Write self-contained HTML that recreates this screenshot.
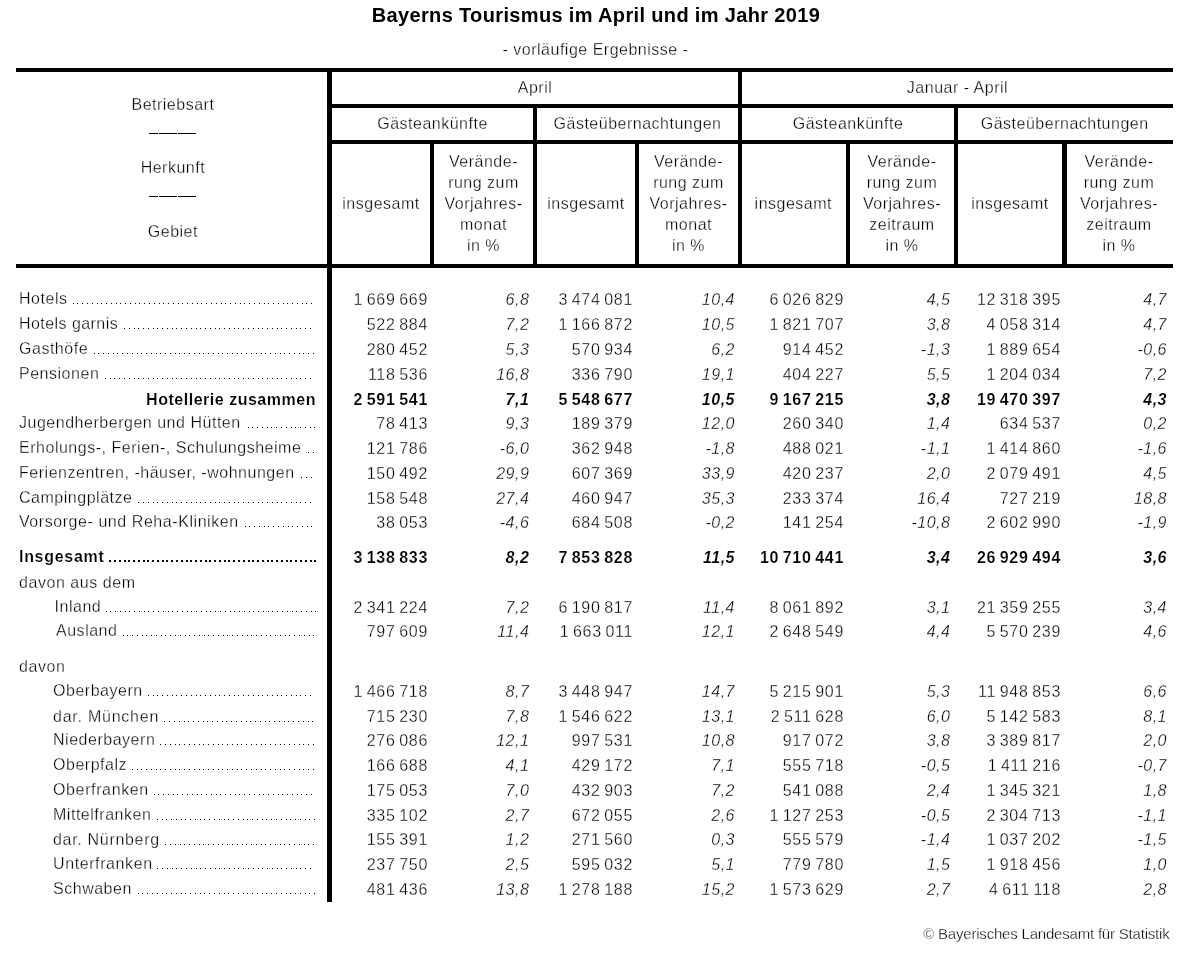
<!DOCTYPE html>
<html lang="de"><head><meta charset="utf-8"><title>Bayerns Tourismus im April und im Jahr 2019</title>
<style>
html,body{margin:0;padding:0;background:#fff;}
body{width:1197px;height:960px;position:relative;overflow:hidden;font-family:"Liberation Sans",sans-serif;font-size:16px;color:#000;-webkit-text-stroke:0.3px #fff;}
.t{position:absolute;white-space:nowrap;line-height:20px;height:20px;letter-spacing:0.4px;}
.l{letter-spacing:0.52px;}
.n{text-align:right;letter-spacing:0.7px;word-spacing:-1.5px;}
.p{text-align:right;font-style:italic;letter-spacing:0.5px;}
.b{font-weight:bold;-webkit-text-stroke:0.15px #fff;}
.h{text-align:center;letter-spacing:0.5px;}
svg{position:absolute;left:0;top:0;}
#pg{position:absolute;left:0;top:0;width:1197px;height:960px;will-change:transform;}
</style></head><body><div id="pg">
<svg width="1197" height="960" viewBox="0 0 1197 960" fill="#000">
<rect x="16" y="68" width="1157" height="4"/>
<rect x="327" y="104" width="846" height="4"/>
<rect x="327" y="140" width="846" height="4"/>
<rect x="16" y="264" width="1157" height="4"/>
<rect x="327" y="68" width="5" height="834"/>
<rect x="738" y="68" width="4" height="200"/>
<rect x="533" y="104" width="4" height="164"/>
<rect x="954" y="104" width="4" height="164"/>
<rect x="430" y="140" width="4" height="128"/>
<rect x="635" y="140" width="4" height="128"/>
<rect x="846" y="140" width="4" height="128"/>
<rect x="1062" y="140" width="5" height="128"/>
<rect x="149" y="133" width="9" height="1"/>
<rect x="159" y="133" width="18" height="1"/>
<rect x="178" y="133" width="18" height="1"/>
<rect x="149" y="196" width="9" height="1"/>
<rect x="159" y="196" width="18" height="1"/>
<rect x="178" y="196" width="18" height="1"/>
<path shape-rendering="crispEdges" d="M311 303h1v1h-1zM306 303h1v1h-1zM302 303h1v1h-1zM297 303h1v1h-1zM292 303h1v1h-1zM287 303h1v1h-1zM283 303h1v1h-1zM278 303h1v1h-1zM273 303h1v1h-1zM268 303h1v1h-1zM264 303h1v1h-1zM259 303h1v1h-1zM254 303h1v1h-1zM249 303h1v1h-1zM244 303h1v1h-1zM240 303h1v1h-1zM235 303h1v1h-1zM230 303h1v1h-1zM225 303h1v1h-1zM221 303h1v1h-1zM216 303h1v1h-1zM211 303h1v1h-1zM206 303h1v1h-1zM201 303h1v1h-1zM197 303h1v1h-1zM192 303h1v1h-1zM187 303h1v1h-1zM182 303h1v1h-1zM178 303h1v1h-1zM173 303h1v1h-1zM168 303h1v1h-1zM163 303h1v1h-1zM159 303h1v1h-1zM154 303h1v1h-1zM149 303h1v1h-1zM144 303h1v1h-1zM139 303h1v1h-1zM135 303h1v1h-1zM130 303h1v1h-1zM125 303h1v1h-1zM120 303h1v1h-1zM116 303h1v1h-1zM111 303h1v1h-1zM106 303h1v1h-1zM101 303h1v1h-1zM97 303h1v1h-1zM92 303h1v1h-1zM87 303h1v1h-1zM82 303h1v1h-1zM77 303h1v1h-1zM73 303h1v1h-1zM310 328h1v1h-1zM305 328h1v1h-1zM300 328h1v1h-1zM296 328h1v1h-1zM291 328h1v1h-1zM286 328h1v1h-1zM281 328h1v1h-1zM277 328h1v1h-1zM272 328h1v1h-1zM267 328h1v1h-1zM262 328h1v1h-1zM258 328h1v1h-1zM253 328h1v1h-1zM248 328h1v1h-1zM243 328h1v1h-1zM238 328h1v1h-1zM234 328h1v1h-1zM229 328h1v1h-1zM224 328h1v1h-1zM219 328h1v1h-1zM215 328h1v1h-1zM210 328h1v1h-1zM205 328h1v1h-1zM200 328h1v1h-1zM196 328h1v1h-1zM191 328h1v1h-1zM186 328h1v1h-1zM181 328h1v1h-1zM176 328h1v1h-1zM172 328h1v1h-1zM167 328h1v1h-1zM162 328h1v1h-1zM157 328h1v1h-1zM153 328h1v1h-1zM148 328h1v1h-1zM143 328h1v1h-1zM138 328h1v1h-1zM134 328h1v1h-1zM129 328h1v1h-1zM124 328h1v1h-1zM313 353h1v1h-1zM308 353h1v1h-1zM303 353h1v1h-1zM299 353h1v1h-1zM294 353h1v1h-1zM289 353h1v1h-1zM284 353h1v1h-1zM280 353h1v1h-1zM275 353h1v1h-1zM270 353h1v1h-1zM265 353h1v1h-1zM261 353h1v1h-1zM256 353h1v1h-1zM251 353h1v1h-1zM246 353h1v1h-1zM241 353h1v1h-1zM237 353h1v1h-1zM232 353h1v1h-1zM227 353h1v1h-1zM222 353h1v1h-1zM218 353h1v1h-1zM213 353h1v1h-1zM208 353h1v1h-1zM203 353h1v1h-1zM199 353h1v1h-1zM194 353h1v1h-1zM189 353h1v1h-1zM184 353h1v1h-1zM179 353h1v1h-1zM175 353h1v1h-1zM170 353h1v1h-1zM165 353h1v1h-1zM160 353h1v1h-1zM156 353h1v1h-1zM151 353h1v1h-1zM146 353h1v1h-1zM141 353h1v1h-1zM137 353h1v1h-1zM132 353h1v1h-1zM127 353h1v1h-1zM122 353h1v1h-1zM117 353h1v1h-1zM113 353h1v1h-1zM108 353h1v1h-1zM103 353h1v1h-1zM98 353h1v1h-1zM94 353h1v1h-1zM310 378h1v1h-1zM305 378h1v1h-1zM300 378h1v1h-1zM296 378h1v1h-1zM291 378h1v1h-1zM286 378h1v1h-1zM281 378h1v1h-1zM277 378h1v1h-1zM272 378h1v1h-1zM267 378h1v1h-1zM262 378h1v1h-1zM258 378h1v1h-1zM253 378h1v1h-1zM248 378h1v1h-1zM243 378h1v1h-1zM238 378h1v1h-1zM234 378h1v1h-1zM229 378h1v1h-1zM224 378h1v1h-1zM219 378h1v1h-1zM215 378h1v1h-1zM210 378h1v1h-1zM205 378h1v1h-1zM200 378h1v1h-1zM196 378h1v1h-1zM191 378h1v1h-1zM186 378h1v1h-1zM181 378h1v1h-1zM176 378h1v1h-1zM172 378h1v1h-1zM167 378h1v1h-1zM162 378h1v1h-1zM157 378h1v1h-1zM153 378h1v1h-1zM148 378h1v1h-1zM143 378h1v1h-1zM138 378h1v1h-1zM134 378h1v1h-1zM129 378h1v1h-1zM124 378h1v1h-1zM119 378h1v1h-1zM114 378h1v1h-1zM110 378h1v1h-1zM105 378h1v1h-1zM314 427h1v1h-1zM310 427h1v1h-1zM305 427h1v1h-1zM300 427h1v1h-1zM295 427h1v1h-1zM291 427h1v1h-1zM286 427h1v1h-1zM281 427h1v1h-1zM276 427h1v1h-1zM271 427h1v1h-1zM267 427h1v1h-1zM262 427h1v1h-1zM257 427h1v1h-1zM252 427h1v1h-1zM248 427h1v1h-1zM313 452h1v1h-1zM308 452h1v1h-1zM311 477h1v1h-1zM306 477h1v1h-1zM301 477h1v1h-1zM310 502h1v1h-1zM305 502h1v1h-1zM300 502h1v1h-1zM296 502h1v1h-1zM291 502h1v1h-1zM286 502h1v1h-1zM281 502h1v1h-1zM277 502h1v1h-1zM272 502h1v1h-1zM267 502h1v1h-1zM262 502h1v1h-1zM258 502h1v1h-1zM253 502h1v1h-1zM248 502h1v1h-1zM243 502h1v1h-1zM238 502h1v1h-1zM234 502h1v1h-1zM229 502h1v1h-1zM224 502h1v1h-1zM219 502h1v1h-1zM215 502h1v1h-1zM210 502h1v1h-1zM205 502h1v1h-1zM200 502h1v1h-1zM196 502h1v1h-1zM191 502h1v1h-1zM186 502h1v1h-1zM181 502h1v1h-1zM176 502h1v1h-1zM172 502h1v1h-1zM167 502h1v1h-1zM162 502h1v1h-1zM157 502h1v1h-1zM153 502h1v1h-1zM148 502h1v1h-1zM143 502h1v1h-1zM138 502h1v1h-1zM311 526h1v1h-1zM307 526h1v1h-1zM302 526h1v1h-1zM297 526h1v1h-1zM292 526h1v1h-1zM288 526h1v1h-1zM283 526h1v1h-1zM278 526h1v1h-1zM273 526h1v1h-1zM268 526h1v1h-1zM264 526h1v1h-1zM259 526h1v1h-1zM254 526h1v1h-1zM249 526h1v1h-1zM245 526h1v1h-1zM314 560h2v2h-2zM310 560h2v2h-2zM305 560h2v2h-2zM300 560h2v2h-2zM295 560h2v2h-2zM290 560h2v2h-2zM286 560h2v2h-2zM281 560h2v2h-2zM276 560h2v2h-2zM271 560h2v2h-2zM267 560h2v2h-2zM262 560h2v2h-2zM257 560h2v2h-2zM252 560h2v2h-2zM248 560h2v2h-2zM243 560h2v2h-2zM238 560h2v2h-2zM233 560h2v2h-2zM228 560h2v2h-2zM224 560h2v2h-2zM219 560h2v2h-2zM214 560h2v2h-2zM209 560h2v2h-2zM205 560h2v2h-2zM200 560h2v2h-2zM195 560h2v2h-2zM190 560h2v2h-2zM186 560h2v2h-2zM181 560h2v2h-2zM176 560h2v2h-2zM171 560h2v2h-2zM166 560h2v2h-2zM162 560h2v2h-2zM157 560h2v2h-2zM152 560h2v2h-2zM147 560h2v2h-2zM143 560h2v2h-2zM138 560h2v2h-2zM133 560h2v2h-2zM128 560h2v2h-2zM124 560h2v2h-2zM119 560h2v2h-2zM114 560h2v2h-2zM109 560h2v2h-2zM315 611h1v1h-1zM311 611h1v1h-1zM306 611h1v1h-1zM301 611h1v1h-1zM296 611h1v1h-1zM292 611h1v1h-1zM287 611h1v1h-1zM282 611h1v1h-1zM277 611h1v1h-1zM272 611h1v1h-1zM268 611h1v1h-1zM263 611h1v1h-1zM258 611h1v1h-1zM253 611h1v1h-1zM249 611h1v1h-1zM244 611h1v1h-1zM239 611h1v1h-1zM234 611h1v1h-1zM230 611h1v1h-1zM225 611h1v1h-1zM220 611h1v1h-1zM215 611h1v1h-1zM210 611h1v1h-1zM206 611h1v1h-1zM201 611h1v1h-1zM196 611h1v1h-1zM191 611h1v1h-1zM187 611h1v1h-1zM182 611h1v1h-1zM177 611h1v1h-1zM172 611h1v1h-1zM168 611h1v1h-1zM163 611h1v1h-1zM158 611h1v1h-1zM153 611h1v1h-1zM148 611h1v1h-1zM144 611h1v1h-1zM139 611h1v1h-1zM134 611h1v1h-1zM129 611h1v1h-1zM125 611h1v1h-1zM120 611h1v1h-1zM115 611h1v1h-1zM110 611h1v1h-1zM106 611h1v1h-1zM313 635h1v1h-1zM309 635h1v1h-1zM304 635h1v1h-1zM299 635h1v1h-1zM294 635h1v1h-1zM289 635h1v1h-1zM285 635h1v1h-1zM280 635h1v1h-1zM275 635h1v1h-1zM270 635h1v1h-1zM266 635h1v1h-1zM261 635h1v1h-1zM256 635h1v1h-1zM251 635h1v1h-1zM247 635h1v1h-1zM242 635h1v1h-1zM237 635h1v1h-1zM232 635h1v1h-1zM227 635h1v1h-1zM223 635h1v1h-1zM218 635h1v1h-1zM213 635h1v1h-1zM208 635h1v1h-1zM204 635h1v1h-1zM199 635h1v1h-1zM194 635h1v1h-1zM189 635h1v1h-1zM185 635h1v1h-1zM180 635h1v1h-1zM175 635h1v1h-1zM170 635h1v1h-1zM165 635h1v1h-1zM161 635h1v1h-1zM156 635h1v1h-1zM151 635h1v1h-1zM146 635h1v1h-1zM142 635h1v1h-1zM137 635h1v1h-1zM132 635h1v1h-1zM127 635h1v1h-1zM123 635h1v1h-1zM310 695h1v1h-1zM305 695h1v1h-1zM300 695h1v1h-1zM296 695h1v1h-1zM291 695h1v1h-1zM286 695h1v1h-1zM281 695h1v1h-1zM277 695h1v1h-1zM272 695h1v1h-1zM267 695h1v1h-1zM262 695h1v1h-1zM258 695h1v1h-1zM253 695h1v1h-1zM248 695h1v1h-1zM243 695h1v1h-1zM238 695h1v1h-1zM234 695h1v1h-1zM229 695h1v1h-1zM224 695h1v1h-1zM219 695h1v1h-1zM215 695h1v1h-1zM210 695h1v1h-1zM205 695h1v1h-1zM200 695h1v1h-1zM196 695h1v1h-1zM191 695h1v1h-1zM186 695h1v1h-1zM181 695h1v1h-1zM176 695h1v1h-1zM172 695h1v1h-1zM167 695h1v1h-1zM162 695h1v1h-1zM157 695h1v1h-1zM153 695h1v1h-1zM148 695h1v1h-1zM312 721h1v1h-1zM308 721h1v1h-1zM303 721h1v1h-1zM298 721h1v1h-1zM293 721h1v1h-1zM288 721h1v1h-1zM284 721h1v1h-1zM279 721h1v1h-1zM274 721h1v1h-1zM269 721h1v1h-1zM265 721h1v1h-1zM260 721h1v1h-1zM255 721h1v1h-1zM250 721h1v1h-1zM246 721h1v1h-1zM241 721h1v1h-1zM236 721h1v1h-1zM231 721h1v1h-1zM226 721h1v1h-1zM222 721h1v1h-1zM217 721h1v1h-1zM212 721h1v1h-1zM207 721h1v1h-1zM203 721h1v1h-1zM198 721h1v1h-1zM193 721h1v1h-1zM188 721h1v1h-1zM184 721h1v1h-1zM179 721h1v1h-1zM174 721h1v1h-1zM169 721h1v1h-1zM164 721h1v1h-1zM313 744h1v1h-1zM308 744h1v1h-1zM303 744h1v1h-1zM299 744h1v1h-1zM294 744h1v1h-1zM289 744h1v1h-1zM284 744h1v1h-1zM280 744h1v1h-1zM275 744h1v1h-1zM270 744h1v1h-1zM265 744h1v1h-1zM261 744h1v1h-1zM256 744h1v1h-1zM251 744h1v1h-1zM246 744h1v1h-1zM241 744h1v1h-1zM237 744h1v1h-1zM232 744h1v1h-1zM227 744h1v1h-1zM222 744h1v1h-1zM218 744h1v1h-1zM213 744h1v1h-1zM208 744h1v1h-1zM203 744h1v1h-1zM199 744h1v1h-1zM194 744h1v1h-1zM189 744h1v1h-1zM184 744h1v1h-1zM179 744h1v1h-1zM175 744h1v1h-1zM170 744h1v1h-1zM165 744h1v1h-1zM160 744h1v1h-1zM313 769h1v1h-1zM308 769h1v1h-1zM303 769h1v1h-1zM299 769h1v1h-1zM294 769h1v1h-1zM289 769h1v1h-1zM284 769h1v1h-1zM280 769h1v1h-1zM275 769h1v1h-1zM270 769h1v1h-1zM265 769h1v1h-1zM261 769h1v1h-1zM256 769h1v1h-1zM251 769h1v1h-1zM246 769h1v1h-1zM241 769h1v1h-1zM237 769h1v1h-1zM232 769h1v1h-1zM227 769h1v1h-1zM222 769h1v1h-1zM218 769h1v1h-1zM213 769h1v1h-1zM208 769h1v1h-1zM203 769h1v1h-1zM199 769h1v1h-1zM194 769h1v1h-1zM189 769h1v1h-1zM184 769h1v1h-1zM179 769h1v1h-1zM175 769h1v1h-1zM170 769h1v1h-1zM165 769h1v1h-1zM160 769h1v1h-1zM156 769h1v1h-1zM151 769h1v1h-1zM146 769h1v1h-1zM141 769h1v1h-1zM137 769h1v1h-1zM132 769h1v1h-1zM311 794h1v1h-1zM306 794h1v1h-1zM301 794h1v1h-1zM297 794h1v1h-1zM292 794h1v1h-1zM287 794h1v1h-1zM282 794h1v1h-1zM278 794h1v1h-1zM273 794h1v1h-1zM268 794h1v1h-1zM263 794h1v1h-1zM259 794h1v1h-1zM254 794h1v1h-1zM249 794h1v1h-1zM244 794h1v1h-1zM239 794h1v1h-1zM235 794h1v1h-1zM230 794h1v1h-1zM225 794h1v1h-1zM220 794h1v1h-1zM216 794h1v1h-1zM211 794h1v1h-1zM206 794h1v1h-1zM201 794h1v1h-1zM197 794h1v1h-1zM192 794h1v1h-1zM187 794h1v1h-1zM182 794h1v1h-1zM177 794h1v1h-1zM173 794h1v1h-1zM168 794h1v1h-1zM163 794h1v1h-1zM158 794h1v1h-1zM154 794h1v1h-1zM314 819h1v1h-1zM309 819h1v1h-1zM305 819h1v1h-1zM300 819h1v1h-1zM295 819h1v1h-1zM290 819h1v1h-1zM286 819h1v1h-1zM281 819h1v1h-1zM276 819h1v1h-1zM271 819h1v1h-1zM266 819h1v1h-1zM262 819h1v1h-1zM257 819h1v1h-1zM252 819h1v1h-1zM247 819h1v1h-1zM243 819h1v1h-1zM238 819h1v1h-1zM233 819h1v1h-1zM228 819h1v1h-1zM224 819h1v1h-1zM219 819h1v1h-1zM214 819h1v1h-1zM209 819h1v1h-1zM204 819h1v1h-1zM200 819h1v1h-1zM195 819h1v1h-1zM190 819h1v1h-1zM185 819h1v1h-1zM181 819h1v1h-1zM176 819h1v1h-1zM171 819h1v1h-1zM166 819h1v1h-1zM162 819h1v1h-1zM157 819h1v1h-1zM313 844h1v1h-1zM308 844h1v1h-1zM304 844h1v1h-1zM299 844h1v1h-1zM294 844h1v1h-1zM289 844h1v1h-1zM284 844h1v1h-1zM280 844h1v1h-1zM275 844h1v1h-1zM270 844h1v1h-1zM265 844h1v1h-1zM261 844h1v1h-1zM256 844h1v1h-1zM251 844h1v1h-1zM246 844h1v1h-1zM242 844h1v1h-1zM237 844h1v1h-1zM232 844h1v1h-1zM227 844h1v1h-1zM222 844h1v1h-1zM218 844h1v1h-1zM213 844h1v1h-1zM208 844h1v1h-1zM203 844h1v1h-1zM199 844h1v1h-1zM194 844h1v1h-1zM189 844h1v1h-1zM184 844h1v1h-1zM180 844h1v1h-1zM175 844h1v1h-1zM170 844h1v1h-1zM165 844h1v1h-1zM310 868h1v1h-1zM305 868h1v1h-1zM300 868h1v1h-1zM296 868h1v1h-1zM291 868h1v1h-1zM286 868h1v1h-1zM281 868h1v1h-1zM277 868h1v1h-1zM272 868h1v1h-1zM267 868h1v1h-1zM262 868h1v1h-1zM258 868h1v1h-1zM253 868h1v1h-1zM248 868h1v1h-1zM243 868h1v1h-1zM238 868h1v1h-1zM234 868h1v1h-1zM229 868h1v1h-1zM224 868h1v1h-1zM219 868h1v1h-1zM215 868h1v1h-1zM210 868h1v1h-1zM205 868h1v1h-1zM200 868h1v1h-1zM196 868h1v1h-1zM191 868h1v1h-1zM186 868h1v1h-1zM181 868h1v1h-1zM176 868h1v1h-1zM172 868h1v1h-1zM167 868h1v1h-1zM162 868h1v1h-1zM157 868h1v1h-1zM314 893h1v1h-1zM309 893h1v1h-1zM305 893h1v1h-1zM300 893h1v1h-1zM295 893h1v1h-1zM290 893h1v1h-1zM286 893h1v1h-1zM281 893h1v1h-1zM276 893h1v1h-1zM271 893h1v1h-1zM266 893h1v1h-1zM262 893h1v1h-1zM257 893h1v1h-1zM252 893h1v1h-1zM247 893h1v1h-1zM243 893h1v1h-1zM238 893h1v1h-1zM233 893h1v1h-1zM228 893h1v1h-1zM224 893h1v1h-1zM219 893h1v1h-1zM214 893h1v1h-1zM209 893h1v1h-1zM204 893h1v1h-1zM200 893h1v1h-1zM195 893h1v1h-1zM190 893h1v1h-1zM185 893h1v1h-1zM181 893h1v1h-1zM176 893h1v1h-1zM171 893h1v1h-1zM166 893h1v1h-1zM162 893h1v1h-1zM157 893h1v1h-1zM152 893h1v1h-1zM147 893h1v1h-1zM142 893h1v1h-1zM138 893h1v1h-1z"/>
</svg>
<div class="t b h" style="left:0px;width:1192px;top:3.07px;font-size:20px;line-height:24px;height:24px;letter-spacing:0.35px;-webkit-text-stroke:0;">Bayerns Tourismus im April und im Jahr 2019</div>
<div class="t h" style="left:0px;width:1191px;top:39.96px;">- vorläufige Ergebnisse -</div>
<div class="t h" style="left:17.4px;width:311px;top:95.46px;">Betriebsart</div>
<div class="t h" style="left:17.4px;width:311px;top:158.46px;">Herkunft</div>
<div class="t h" style="left:17.4px;width:311px;top:222.46px;">Gebiet</div>
<div class="t h" style="left:332px;width:406px;top:78.46px;">April</div>
<div class="t h" style="left:742px;width:431px;top:78.46px;">Januar - April</div>
<div class="t h" style="left:332px;width:201px;top:114.46px;">Gästeankünfte</div>
<div class="t h" style="left:537px;width:201px;top:114.46px;">Gästeübernachtungen</div>
<div class="t h" style="left:742px;width:212px;top:114.46px;">Gästeankünfte</div>
<div class="t h" style="left:957px;width:215.4px;top:114.46px;">Gästeübernachtungen</div>
<div class="t h" style="left:332px;width:98px;top:194.46px;">insgesamt</div>
<div class="t h" style="left:537px;width:98px;top:194.46px;">insgesamt</div>
<div class="t h" style="left:741px;width:104.6px;top:194.46px;">insgesamt</div>
<div class="t h" style="left:958px;width:104px;top:194.46px;">insgesamt</div>
<div class="t h" style="left:434px;width:99px;top:152.46px;">Verände-</div>
<div class="t h" style="left:434px;width:99px;top:173.46px;">rung zum</div>
<div class="t h" style="left:434px;width:99px;top:194.46px;">Vorjahres-</div>
<div class="t h" style="left:434px;width:99px;top:215.46px;">monat</div>
<div class="t h" style="left:434px;width:99px;top:236.46px;">in %</div>
<div class="t h" style="left:639px;width:99px;top:152.46px;">Verände-</div>
<div class="t h" style="left:639px;width:99px;top:173.46px;">rung zum</div>
<div class="t h" style="left:639px;width:99px;top:194.46px;">Vorjahres-</div>
<div class="t h" style="left:639px;width:99px;top:215.46px;">monat</div>
<div class="t h" style="left:639px;width:99px;top:236.46px;">in %</div>
<div class="t h" style="left:850px;width:104px;top:152.46px;">Verände-</div>
<div class="t h" style="left:850px;width:104px;top:173.46px;">rung zum</div>
<div class="t h" style="left:850px;width:104px;top:194.46px;">Vorjahres-</div>
<div class="t h" style="left:850px;width:104px;top:215.46px;">zeitraum</div>
<div class="t h" style="left:850px;width:104px;top:236.46px;">in %</div>
<div class="t h" style="left:1066px;width:106px;top:152.46px;">Verände-</div>
<div class="t h" style="left:1066px;width:106px;top:173.46px;">rung zum</div>
<div class="t h" style="left:1066px;width:106px;top:194.46px;">Vorjahres-</div>
<div class="t h" style="left:1066px;width:106px;top:215.46px;">zeitraum</div>
<div class="t h" style="left:1066px;width:106px;top:236.46px;">in %</div>
<div class="t l" style="left:19px;top:289.46px;">Hotels</div>
<div class="t n" style="left:308px;width:120px;top:290.46px;">1 669 669</div>
<div class="t p" style="left:409.3px;width:120px;top:290.46px;">6,8</div>
<div class="t n" style="left:513px;width:120px;top:290.46px;">3 474 081</div>
<div class="t p" style="left:615px;width:120px;top:290.46px;">10,4</div>
<div class="t n" style="left:724px;width:120px;top:290.46px;">6 026 829</div>
<div class="t p" style="left:830.4px;width:120px;top:290.46px;">4,5</div>
<div class="t n" style="left:941px;width:120px;top:290.46px;">12 318 395</div>
<div class="t p" style="left:1047px;width:120px;top:290.46px;">4,7</div>
<div class="t l" style="left:19px;top:314.46px;letter-spacing:0.44px;">Hotels garnis</div>
<div class="t n" style="left:308px;width:120px;top:315.46px;">522 884</div>
<div class="t p" style="left:409.3px;width:120px;top:315.46px;">7,2</div>
<div class="t n" style="left:513px;width:120px;top:315.46px;">1 166 872</div>
<div class="t p" style="left:615px;width:120px;top:315.46px;">10,5</div>
<div class="t n" style="left:724px;width:120px;top:315.46px;">1 821 707</div>
<div class="t p" style="left:830.4px;width:120px;top:315.46px;">3,8</div>
<div class="t n" style="left:941px;width:120px;top:315.46px;">4 058 314</div>
<div class="t p" style="left:1047px;width:120px;top:315.46px;">4,7</div>
<div class="t l" style="left:19px;top:339.46px;">Gasthöfe</div>
<div class="t n" style="left:308px;width:120px;top:340.46px;">280 452</div>
<div class="t p" style="left:409.3px;width:120px;top:340.46px;">5,3</div>
<div class="t n" style="left:513px;width:120px;top:340.46px;">570 934</div>
<div class="t p" style="left:615px;width:120px;top:340.46px;">6,2</div>
<div class="t n" style="left:724px;width:120px;top:340.46px;">914 452</div>
<div class="t p" style="left:830.4px;width:120px;top:340.46px;">-1,3</div>
<div class="t n" style="left:941px;width:120px;top:340.46px;">1 889 654</div>
<div class="t p" style="left:1047px;width:120px;top:340.46px;">-0,6</div>
<div class="t l" style="left:19px;top:364.46px;">Pensionen</div>
<div class="t n" style="left:308px;width:120px;top:365.46px;">118 536</div>
<div class="t p" style="left:409.3px;width:120px;top:365.46px;">16,8</div>
<div class="t n" style="left:513px;width:120px;top:365.46px;">336 790</div>
<div class="t p" style="left:615px;width:120px;top:365.46px;">19,1</div>
<div class="t n" style="left:724px;width:120px;top:365.46px;">404 227</div>
<div class="t p" style="left:830.4px;width:120px;top:365.46px;">5,5</div>
<div class="t n" style="left:941px;width:120px;top:365.46px;">1 204 034</div>
<div class="t p" style="left:1047px;width:120px;top:365.46px;">7,2</div>
<div class="t b" style="left:16px;width:300px;top:390.46px;text-align:right;letter-spacing:0.52px;">Hotellerie zusammen</div>
<div class="t n b" style="left:308px;width:120px;top:390.46px;">2 591 541</div>
<div class="t p b" style="left:409.3px;width:120px;top:390.46px;">7,1</div>
<div class="t n b" style="left:513px;width:120px;top:390.46px;">5 548 677</div>
<div class="t p b" style="left:615px;width:120px;top:390.46px;">10,5</div>
<div class="t n b" style="left:724px;width:120px;top:390.46px;">9 167 215</div>
<div class="t p b" style="left:830.4px;width:120px;top:390.46px;">3,8</div>
<div class="t n b" style="left:941px;width:120px;top:390.46px;">19 470 397</div>
<div class="t p b" style="left:1047px;width:120px;top:390.46px;">4,3</div>
<div class="t l" style="left:19px;top:413.46px;">Jugendherbergen und Hütten</div>
<div class="t n" style="left:308px;width:120px;top:414.46px;">78 413</div>
<div class="t p" style="left:409.3px;width:120px;top:414.46px;">9,3</div>
<div class="t n" style="left:513px;width:120px;top:414.46px;">189 379</div>
<div class="t p" style="left:615px;width:120px;top:414.46px;">12,0</div>
<div class="t n" style="left:724px;width:120px;top:414.46px;">260 340</div>
<div class="t p" style="left:830.4px;width:120px;top:414.46px;">1,4</div>
<div class="t n" style="left:941px;width:120px;top:414.46px;">634 537</div>
<div class="t p" style="left:1047px;width:120px;top:414.46px;">0,2</div>
<div class="t l" style="left:19px;top:438.46px;">Erholungs-, Ferien-, Schulungsheime</div>
<div class="t n" style="left:308px;width:120px;top:439.46px;">121 786</div>
<div class="t p" style="left:409.3px;width:120px;top:439.46px;">-6,0</div>
<div class="t n" style="left:513px;width:120px;top:439.46px;">362 948</div>
<div class="t p" style="left:615px;width:120px;top:439.46px;">-1,8</div>
<div class="t n" style="left:724px;width:120px;top:439.46px;">488 021</div>
<div class="t p" style="left:830.4px;width:120px;top:439.46px;">-1,1</div>
<div class="t n" style="left:941px;width:120px;top:439.46px;">1 414 860</div>
<div class="t p" style="left:1047px;width:120px;top:439.46px;">-1,6</div>
<div class="t l" style="left:19px;top:463.46px;">Ferienzentren, -häuser, -wohnungen</div>
<div class="t n" style="left:308px;width:120px;top:464.46px;">150 492</div>
<div class="t p" style="left:409.3px;width:120px;top:464.46px;">29,9</div>
<div class="t n" style="left:513px;width:120px;top:464.46px;">607 369</div>
<div class="t p" style="left:615px;width:120px;top:464.46px;">33,9</div>
<div class="t n" style="left:724px;width:120px;top:464.46px;">420 237</div>
<div class="t p" style="left:830.4px;width:120px;top:464.46px;">2,0</div>
<div class="t n" style="left:941px;width:120px;top:464.46px;">2 079 491</div>
<div class="t p" style="left:1047px;width:120px;top:464.46px;">4,5</div>
<div class="t l" style="left:19px;top:488.46px;">Campingplätze</div>
<div class="t n" style="left:308px;width:120px;top:489.46px;">158 548</div>
<div class="t p" style="left:409.3px;width:120px;top:489.46px;">27,4</div>
<div class="t n" style="left:513px;width:120px;top:489.46px;">460 947</div>
<div class="t p" style="left:615px;width:120px;top:489.46px;">35,3</div>
<div class="t n" style="left:724px;width:120px;top:489.46px;">233 374</div>
<div class="t p" style="left:830.4px;width:120px;top:489.46px;">16,4</div>
<div class="t n" style="left:941px;width:120px;top:489.46px;">727 219</div>
<div class="t p" style="left:1047px;width:120px;top:489.46px;">18,8</div>
<div class="t l" style="left:19px;top:512.46px;letter-spacing:0.56px;">Vorsorge- und Reha-Kliniken</div>
<div class="t n" style="left:308px;width:120px;top:513.46px;">38 053</div>
<div class="t p" style="left:409.3px;width:120px;top:513.46px;">-4,6</div>
<div class="t n" style="left:513px;width:120px;top:513.46px;">684 508</div>
<div class="t p" style="left:615px;width:120px;top:513.46px;">-0,2</div>
<div class="t n" style="left:724px;width:120px;top:513.46px;">141 254</div>
<div class="t p" style="left:830.4px;width:120px;top:513.46px;">-10,8</div>
<div class="t n" style="left:941px;width:120px;top:513.46px;">2 602 990</div>
<div class="t p" style="left:1047px;width:120px;top:513.46px;">-1,9</div>
<div class="t l b" style="left:19px;top:547.46px;letter-spacing:0.7px;">Insgesamt</div>
<div class="t n b" style="left:308px;width:120px;top:548.46px;">3 138 833</div>
<div class="t p b" style="left:409.3px;width:120px;top:548.46px;">8,2</div>
<div class="t n b" style="left:513px;width:120px;top:548.46px;">7 853 828</div>
<div class="t p b" style="left:615px;width:120px;top:548.46px;">11,5</div>
<div class="t n b" style="left:724px;width:120px;top:548.46px;">10 710 441</div>
<div class="t p b" style="left:830.4px;width:120px;top:548.46px;">3,4</div>
<div class="t n b" style="left:941px;width:120px;top:548.46px;">26 929 494</div>
<div class="t p b" style="left:1047px;width:120px;top:548.46px;">3,6</div>
<div class="t " style="left:19px;width:300px;top:573.46px;letter-spacing:0.55px;">davon aus dem</div>
<div class="t l" style="left:54.5px;top:597.46px;">Inland</div>
<div class="t n" style="left:308px;width:120px;top:598.46px;">2 341 224</div>
<div class="t p" style="left:409.3px;width:120px;top:598.46px;">7,2</div>
<div class="t n" style="left:513px;width:120px;top:598.46px;">6 190 817</div>
<div class="t p" style="left:615px;width:120px;top:598.46px;">11,4</div>
<div class="t n" style="left:724px;width:120px;top:598.46px;">8 061 892</div>
<div class="t p" style="left:830.4px;width:120px;top:598.46px;">3,1</div>
<div class="t n" style="left:941px;width:120px;top:598.46px;">21 359 255</div>
<div class="t p" style="left:1047px;width:120px;top:598.46px;">3,4</div>
<div class="t l" style="left:56px;top:621.46px;">Ausland</div>
<div class="t n" style="left:308px;width:120px;top:622.46px;">797 609</div>
<div class="t p" style="left:409.3px;width:120px;top:622.46px;">11,4</div>
<div class="t n" style="left:513px;width:120px;top:622.46px;">1 663 011</div>
<div class="t p" style="left:615px;width:120px;top:622.46px;">12,1</div>
<div class="t n" style="left:724px;width:120px;top:622.46px;">2 648 549</div>
<div class="t p" style="left:830.4px;width:120px;top:622.46px;">4,4</div>
<div class="t n" style="left:941px;width:120px;top:622.46px;">5 570 239</div>
<div class="t p" style="left:1047px;width:120px;top:622.46px;">4,6</div>
<div class="t " style="left:19px;width:300px;top:657.46px;letter-spacing:0.55px;">davon</div>
<div class="t l" style="left:53px;top:681.46px;">Oberbayern</div>
<div class="t n" style="left:308px;width:120px;top:682.46px;">1 466 718</div>
<div class="t p" style="left:409.3px;width:120px;top:682.46px;">8,7</div>
<div class="t n" style="left:513px;width:120px;top:682.46px;">3 448 947</div>
<div class="t p" style="left:615px;width:120px;top:682.46px;">14,7</div>
<div class="t n" style="left:724px;width:120px;top:682.46px;">5 215 901</div>
<div class="t p" style="left:830.4px;width:120px;top:682.46px;">5,3</div>
<div class="t n" style="left:941px;width:120px;top:682.46px;">11 948 853</div>
<div class="t p" style="left:1047px;width:120px;top:682.46px;">6,6</div>
<div class="t l" style="left:53px;top:707.46px;letter-spacing:0.76px;">dar. München</div>
<div class="t n" style="left:308px;width:120px;top:707.46px;">715 230</div>
<div class="t p" style="left:409.3px;width:120px;top:707.46px;">7,8</div>
<div class="t n" style="left:513px;width:120px;top:707.46px;">1 546 622</div>
<div class="t p" style="left:615px;width:120px;top:707.46px;">13,1</div>
<div class="t n" style="left:724px;width:120px;top:707.46px;">2 511 628</div>
<div class="t p" style="left:830.4px;width:120px;top:707.46px;">6,0</div>
<div class="t n" style="left:941px;width:120px;top:707.46px;">5 142 583</div>
<div class="t p" style="left:1047px;width:120px;top:707.46px;">8,1</div>
<div class="t l" style="left:53px;top:730.46px;">Niederbayern</div>
<div class="t n" style="left:308px;width:120px;top:731.46px;">276 086</div>
<div class="t p" style="left:409.3px;width:120px;top:731.46px;">12,1</div>
<div class="t n" style="left:513px;width:120px;top:731.46px;">997 531</div>
<div class="t p" style="left:615px;width:120px;top:731.46px;">10,8</div>
<div class="t n" style="left:724px;width:120px;top:731.46px;">917 072</div>
<div class="t p" style="left:830.4px;width:120px;top:731.46px;">3,8</div>
<div class="t n" style="left:941px;width:120px;top:731.46px;">3 389 817</div>
<div class="t p" style="left:1047px;width:120px;top:731.46px;">2,0</div>
<div class="t l" style="left:53px;top:755.46px;">Oberpfalz</div>
<div class="t n" style="left:308px;width:120px;top:756.46px;">166 688</div>
<div class="t p" style="left:409.3px;width:120px;top:756.46px;">4,1</div>
<div class="t n" style="left:513px;width:120px;top:756.46px;">429 172</div>
<div class="t p" style="left:615px;width:120px;top:756.46px;">7,1</div>
<div class="t n" style="left:724px;width:120px;top:756.46px;">555 718</div>
<div class="t p" style="left:830.4px;width:120px;top:756.46px;">-0,5</div>
<div class="t n" style="left:941px;width:120px;top:756.46px;">1 411 216</div>
<div class="t p" style="left:1047px;width:120px;top:756.46px;">-0,7</div>
<div class="t l" style="left:53px;top:780.46px;letter-spacing:0.63px;">Oberfranken</div>
<div class="t n" style="left:308px;width:120px;top:781.46px;">175 053</div>
<div class="t p" style="left:409.3px;width:120px;top:781.46px;">7,0</div>
<div class="t n" style="left:513px;width:120px;top:781.46px;">432 903</div>
<div class="t p" style="left:615px;width:120px;top:781.46px;">7,2</div>
<div class="t n" style="left:724px;width:120px;top:781.46px;">541 088</div>
<div class="t p" style="left:830.4px;width:120px;top:781.46px;">2,4</div>
<div class="t n" style="left:941px;width:120px;top:781.46px;">1 345 321</div>
<div class="t p" style="left:1047px;width:120px;top:781.46px;">1,8</div>
<div class="t l" style="left:53px;top:805.46px;">Mittelfranken</div>
<div class="t n" style="left:308px;width:120px;top:806.46px;">335 102</div>
<div class="t p" style="left:409.3px;width:120px;top:806.46px;">2,7</div>
<div class="t n" style="left:513px;width:120px;top:806.46px;">672 055</div>
<div class="t p" style="left:615px;width:120px;top:806.46px;">2,6</div>
<div class="t n" style="left:724px;width:120px;top:806.46px;">1 127 253</div>
<div class="t p" style="left:830.4px;width:120px;top:806.46px;">-0,5</div>
<div class="t n" style="left:941px;width:120px;top:806.46px;">2 304 713</div>
<div class="t p" style="left:1047px;width:120px;top:806.46px;">-1,1</div>
<div class="t l" style="left:53px;top:830.46px;letter-spacing:0.69px;">dar. Nürnberg</div>
<div class="t n" style="left:308px;width:120px;top:830.46px;">155 391</div>
<div class="t p" style="left:409.3px;width:120px;top:830.46px;">1,2</div>
<div class="t n" style="left:513px;width:120px;top:830.46px;">271 560</div>
<div class="t p" style="left:615px;width:120px;top:830.46px;">0,3</div>
<div class="t n" style="left:724px;width:120px;top:830.46px;">555 579</div>
<div class="t p" style="left:830.4px;width:120px;top:830.46px;">-1,4</div>
<div class="t n" style="left:941px;width:120px;top:830.46px;">1 037 202</div>
<div class="t p" style="left:1047px;width:120px;top:830.46px;">-1,5</div>
<div class="t l" style="left:53px;top:854.46px;letter-spacing:0.6px;">Unterfranken</div>
<div class="t n" style="left:308px;width:120px;top:855.46px;">237 750</div>
<div class="t p" style="left:409.3px;width:120px;top:855.46px;">2,5</div>
<div class="t n" style="left:513px;width:120px;top:855.46px;">595 032</div>
<div class="t p" style="left:615px;width:120px;top:855.46px;">5,1</div>
<div class="t n" style="left:724px;width:120px;top:855.46px;">779 780</div>
<div class="t p" style="left:830.4px;width:120px;top:855.46px;">1,5</div>
<div class="t n" style="left:941px;width:120px;top:855.46px;">1 918 456</div>
<div class="t p" style="left:1047px;width:120px;top:855.46px;">1,0</div>
<div class="t l" style="left:53px;top:879.46px;">Schwaben</div>
<div class="t n" style="left:308px;width:120px;top:880.46px;">481 436</div>
<div class="t p" style="left:409.3px;width:120px;top:880.46px;">13,8</div>
<div class="t n" style="left:513px;width:120px;top:880.46px;">1 278 188</div>
<div class="t p" style="left:615px;width:120px;top:880.46px;">15,2</div>
<div class="t n" style="left:724px;width:120px;top:880.46px;">1 573 629</div>
<div class="t p" style="left:830.4px;width:120px;top:880.46px;">2,7</div>
<div class="t n" style="left:941px;width:120px;top:880.46px;">4 611 118</div>
<div class="t p" style="left:1047px;width:120px;top:880.46px;">2,8</div>
<div class="t " style="left:899.5px;width:270px;top:923.80px;font-size:15px;text-align:right;letter-spacing:-0.2px;">© Bayerisches Landesamt für Statistik</div>
</div></body></html>
